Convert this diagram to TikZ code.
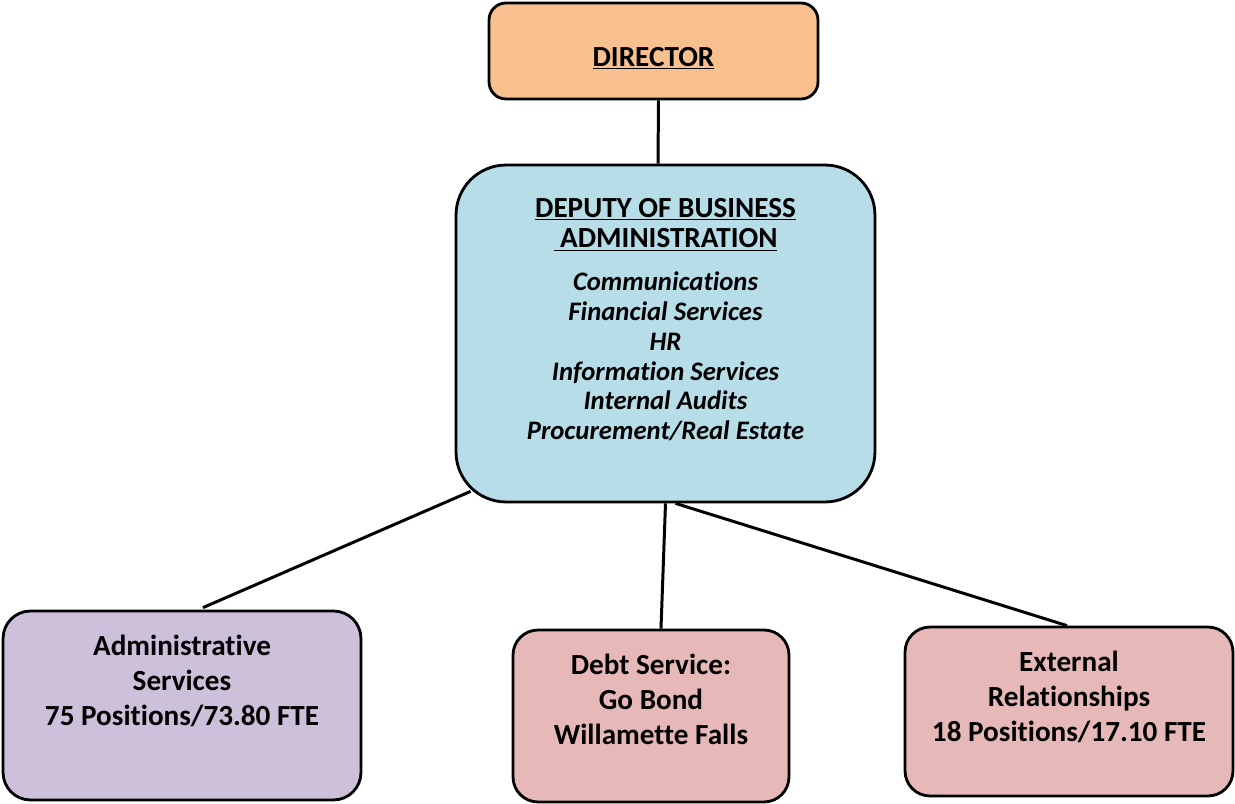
\documentclass[tikz,border=0pt]{standalone}
\usepackage{fontspec}
\setmainfont{Carlito}[Ligatures=NoCommon]
\usetikzlibrary{positioning}
\usetikzlibrary{calc}
\usetikzlibrary{backgrounds}
\definecolor{dirorange}{RGB}{249,192,143}
\definecolor{depblue}{RGB}{183,221,232}
\definecolor{admlilac}{RGB}{204,192,218}
\definecolor{unitpink}{RGB}{230,185,184}
\tikzset{
    box/.style = {draw=black, line width=1.6pt, inner sep=0pt},
    dir_box/.style = {box, fill=dirorange, rounded corners=0.34cm},
    dep_box/.style = {box, fill=depblue, rounded corners=1cm},
    adm_box/.style = {box, fill=admlilac, rounded corners=0.55cm},
    unit_box/.style = {box, fill=unitpink, rounded corners=0.5cm}
}
\tikzset{
    txt/.style = {align=center, inner sep=0pt, font=\bfseries\fontsize{16.6}{20}\selectfont},
    ttl/.style = {txt, font=\bfseries\fontsize{16.6}{17.2}\selectfont},
    lst/.style = {align=center, inner sep=0pt, font=\bfseries\itshape\fontsize{15.2}{17}\selectfont},
    link/.style = {draw=black, line width=1.7pt}
}

\begin{document}
\begin{tikzpicture}[x=0.02cm, y=-0.02cm]
    \useasboundingbox (0,0) rectangle (1235,804);

    % boxes
    \node [dir_box, minimum width=6.58cm, minimum height=1.92cm] (dir) at (653.5,51) {};
    \node [dep_box, minimum width=8.38cm, minimum height=6.74cm] (dep) at (665.5,333.5) {};
    \node [adm_box, minimum width=7.16cm, minimum height=3.78cm] (adm) at (182,705.5) {};
    \node [unit_box, minimum width=5.52cm, minimum height=3.44cm] (dbt) at (651,716) {};
    \node [unit_box, minimum width=6.56cm, minimum height=3.38cm] (ext) at (1069,711.5) {};

    % texts
    \node [ttl, below=0.9cm of dir.north] (dir_txt) {\underline{DIRECTOR}};
    \node [ttl, below=0.68cm of dep.north] (dep_ttl) {\underline{DEPUTY OF BUSINESS}\\\underline{\ ADMINISTRATION}};
    \node [lst, below=0.4cm of dep_ttl] (dep_lst) {Communications\\Financial Services\\HR\\Information Services\\Internal Audits\\Procurement/Real Estate};
    \node [txt, below=0.5cm of adm.north] (adm_txt) {Administrative\\Services\\75 Positions/73.80 FTE};
    \node [txt, below=0.5cm of dbt.north] (dbt_txt) {Debt Service:\\Go Bond\\Willamette Falls};
    \node [txt, below=0.5cm of ext.north] (ext_txt) {External\\Relationships\\18 Positions/17.10 FTE};

    % connectors
    \begin{scope}[on background layer]
        \draw [link] ([xshift=0.1cm]dir.south) -- ([xshift=-0.15cm]dep.north);
        \draw [link] ($(dep.south west)+(16,-12)$) -- ($(adm.north)+(21,-2)$);
        \draw [link] (dep.south) -- ($(dbt.north)+(10,0)$);
        \draw [link] ($(dep.south)+(10,0)$) -- ($(ext.north)+(-2,0)$);
    \end{scope}
\end{tikzpicture}
\end{document}
